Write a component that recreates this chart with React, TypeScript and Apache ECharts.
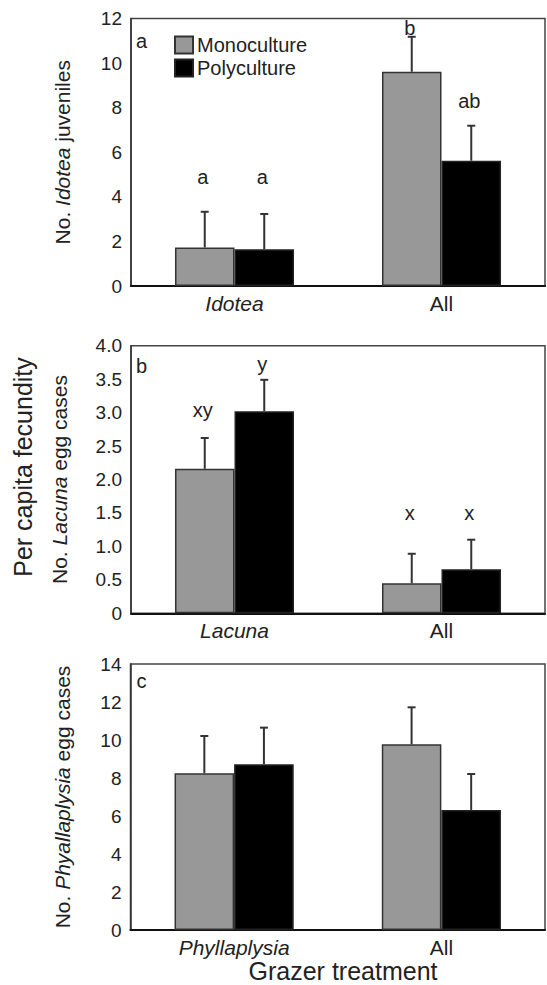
import React, { useEffect, useRef } from 'react';
import * as echarts from 'echarts';

const FONT = '"Liberation Sans", Arial, Helvetica, sans-serif';

// Panel a – Idotea juveniles
const categoriesA = ['Idotea', 'All'];
const monoA = [1.73, 9.61];
const monoErrA = [1.6, 1.57];
const polyA = [1.65, 5.62];
const polyErrA = [1.58, 1.57];
const monoLettersA = ['a', 'b'];
const monoLetterYA = [4.91, 11.57];
const polyLettersA = ['a', 'ab'];
const polyLetterYA = [4.91, 8.3];
const ticksA = { min: 0, max: 12, interval: 2 };

// Panel b – Lacuna egg cases
const categoriesB = ['Lacuna', 'All'];
const monoB = [2.16, 0.45];
const monoErrB = [0.46, 0.44];
const polyB = [3.02, 0.66];
const polyErrB = [0.47, 0.44];
const monoLettersB = ['xy', 'x'];
const monoLetterYB = [3.04, 1.5];
const polyLettersB = ['y', 'x'];
const polyLetterYB = [3.73, 1.5];
const ticksB = { min: 0, max: 4, interval: 0.5 };

// Panel c – Phyllaplysia egg cases
const categoriesC = ['Phyllaplysia', 'All'];
const monoC = [8.25, 9.77];
const monoErrC = [1.96, 1.95];
const polyC = [8.72, 6.32];
const polyErrC = [1.93, 1.89];
const ticksC = { min: 0, max: 14, interval: 2 };

const seriesNames = ['Monoculture', 'Polyculture'];
const GAP = 0.425;
const GRAY = '#989898';

function makePanel(
  i: number,
  layout: { top: number; height: number; left: number },
  cats: string[],
  mono: number[],
  monoErr: number[],
  poly: number[],
  polyErr: number[],
  ticks: { min: number; max: number; interval: number },
  yName: string,
  nameGap: number,
  decimals: boolean,
  monoLetters: string[] | null,
  monoLetterY: number[] | null,
  polyLetters: string[] | null,
  polyLetterY: number[] | null
) {
  const grid = {
    left: layout.left,
    top: layout.top,
    width: 545 - layout.left,
    height: layout.height,
    show: true,
    borderColor: '#444',
    borderWidth: 1.5,
    backgroundColor: 'transparent',
  };
  const xAxis = {
    type: 'category',
    gridIndex: i,
    data: cats,
    axisTick: { show: false },
    axisLine: { lineStyle: { color: '#111', width: 2 } },
    axisLabel: {
      margin: 7,
      formatter: (v: string, idx: number) => (idx === 0 ? `{it|${v}}` : `{n|${v}}`),
      rich: {
        it: { fontStyle: 'italic', fontSize: 21, fontFamily: FONT, color: '#222' },
        n: { fontSize: 21, fontFamily: FONT, color: '#222' },
      },
    },
  };
  const yAxis = {
    type: 'value',
    gridIndex: i,
    min: ticks.min,
    max: ticks.max,
    interval: ticks.interval,
    splitLine: { show: false },
    axisTick: { show: false },
    axisLine: { show: true, lineStyle: { color: '#333', width: 1.5 } },
    axisLabel: {
      margin: 9,
      fontSize: 19,
      fontFamily: FONT,
      color: '#222',
      padding: [12, 0, 0, 0],
      formatter: (v: number) => (decimals ? (v === 0 ? '0' : v.toFixed(1)) : String(v)),
    },
    name: yName,
    nameLocation: 'middle',
    nameRotate: 90,
    nameGap,
    nameTextStyle: {
      rich: {
        n: { fontSize: 21, fontFamily: FONT, color: '#222' },
        i: { fontSize: 21, fontFamily: FONT, fontStyle: 'italic', color: '#222' },
      },
    },
  };
  const barCommon = {
    type: 'bar',
    xAxisIndex: i,
    yAxisIndex: i,
    barGap: '0%',
    barCategoryGap: `${GAP * 100}%`,
  };
  const series: any[] = [
    {
      ...barCommon,
      name: seriesNames[0],
      data: mono,
      itemStyle: { color: GRAY, borderColor: '#333', borderWidth: 1.5 },
    },
    {
      ...barCommon,
      name: seriesNames[1],
      data: poly,
      itemStyle: { color: '#000', borderColor: '#222', borderWidth: 1.5 },
    },
  ];
  const errData: number[][] = [];
  mono.forEach((m, k) => errData.push([k, 0, m, monoErr[k]]));
  poly.forEach((p, k) => errData.push([k, 1, p, polyErr[k]]));
  series.push({
    type: 'custom',
    xAxisIndex: i,
    yAxisIndex: i,
    z: 5,
    silent: true,
    data: errData,
    encode: { x: 0, y: 2 },
    renderItem: (params: any, api: any) => {
      const cat = api.value(0);
      const s = api.value(1);
      const mean = api.value(2);
      const err = api.value(3);
      const band = api.size([1, 0])[0];
      const bw = (band * (1 - GAP)) / 2;
      const off = ((s === 0 ? -1 : 1) * bw) / 2;
      const base = api.coord([cat, mean]);
      const top = api.coord([cat, mean + err]);
      const x = base[0] + off;
      return {
        type: 'group',
        children: [
          { type: 'line', shape: { x1: x, y1: base[1], x2: x, y2: top[1] }, style: { stroke: '#333', lineWidth: 2 } },
          { type: 'line', shape: { x1: x - 4, y1: top[1], x2: x + 4, y2: top[1] }, style: { stroke: '#333', lineWidth: 2 } },
        ],
      };
    },
  });
  if (monoLetters && polyLetters && monoLetterY && polyLetterY) {
    const letterData: any[] = [];
    const letterText: string[] = [];
    monoLetters.forEach((t, k) => {
      letterData.push([k, 0, monoLetterY[k]]);
      letterText.push(t);
    });
    polyLetters.forEach((t, k) => {
      letterData.push([k, 1, polyLetterY[k]]);
      letterText.push(t);
    });
    series.push({
      type: 'custom',
      xAxisIndex: i,
      yAxisIndex: i,
      z: 6,
      silent: true,
      data: letterData,
      encode: { x: 0, y: 2 },
      renderItem: (params: any, api: any) => {
        const cat = api.value(0);
        const s = api.value(1);
        const yv = api.value(2);
        const band = api.size([1, 0])[0];
        const bw = (band * (1 - GAP)) / 2;
        const off = ((s === 0 ? -1 : 1) * bw) / 2;
        const p = api.coord([cat, yv]);
        return {
          type: 'text',
          style: {
            text: letterText[params.dataIndex],
            x: p[0] + off - 2,
            y: p[1],
            textAlign: 'center',
            textVerticalAlign: 'middle',
            align: 'center',
            verticalAlign: 'middle',
            fontSize: 20,
            fontFamily: FONT,
            fill: '#222',
          },
        };
      },
    });
  }
  return { grid, xAxis, yAxis, series };
}

export default function App() {
  const ref = useRef<HTMLDivElement>(null);
  useEffect(() => {
    if (!ref.current) return;
    const chart = echarts.init(ref.current, undefined, { renderer: 'svg' });
    const pa = makePanel(0, { top: 18.5, height: 267.5, left: 131 }, categoriesA, monoA, monoErrA, polyA, polyErrA, ticksA,
      '{n|No. }{i|Idotea}{n| juveniles}', 58, false, monoLettersA, monoLetterYA, polyLettersA, polyLetterYA);
    const pb = makePanel(1, { top: 345.7, height: 267.6, left: 131 }, categoriesB, monoB, monoErrB, polyB, polyErrB, ticksB,
      '{n|No. }{i|Lacuna}{n| egg cases}', 61, true, monoLettersB, monoLetterYB, polyLettersB, polyLetterYB);
    const pc = makePanel(2, { top: 664, height: 266, left: 130.5 }, categoriesC, monoC, monoErrC, polyC, polyErrC, ticksC,
      '{n|No. }{i|Phyallaplysia}{n| egg cases}', 58, false, null, null, null, null);
    const panelLabel = (t: string, y: number) => ({
      type: 'text',
      x: 141.5,
      y,
      style: { text: t, fontSize: 20, fontFamily: FONT, fill: '#222', align: 'center', verticalAlign: 'middle' },
    });
    chart.setOption({
      animation: false,
      backgroundColor: '#fff',
      grid: [pa.grid, pb.grid, pc.grid],
      xAxis: [pa.xAxis, pb.xAxis, pc.xAxis],
      yAxis: [pa.yAxis, pb.yAxis, pc.yAxis],
      series: [...pa.series, ...pb.series, ...pc.series],
      legend: {
        data: seriesNames,
        orient: 'vertical',
        left: 169,
        top: 30,
        itemWidth: 18,
        itemHeight: 17,
        itemGap: 3,
        icon: 'rect',
        selectedMode: false,
        textStyle: { fontSize: 20, fontFamily: FONT, color: '#222', padding: [0, 0, 0, -1] },
      },
      graphic: [
        panelLabel('a', 41),
        panelLabel('b', 366),
        panelLabel('c', 681),
        {
          type: 'text',
          x: 23,
          y: 467,
          rotation: Math.PI / 2,
          style: { text: 'Per capita fecundity', fontSize: 25, fontFamily: FONT, fill: '#222', align: 'center', verticalAlign: 'middle' },
        },
        {
          type: 'text',
          x: 343,
          y: 971,
          style: { text: 'Grazer treatment', fontSize: 25, lineHeight: 24, fontFamily: FONT, fill: '#222', align: 'center', verticalAlign: 'middle' },
        },
      ],
    });
    return () => chart.dispose();
  }, []);
  return <div ref={ref} style={{ position: 'fixed', left: 0, top: 0, width: 547, height: 985 }} />;
}
